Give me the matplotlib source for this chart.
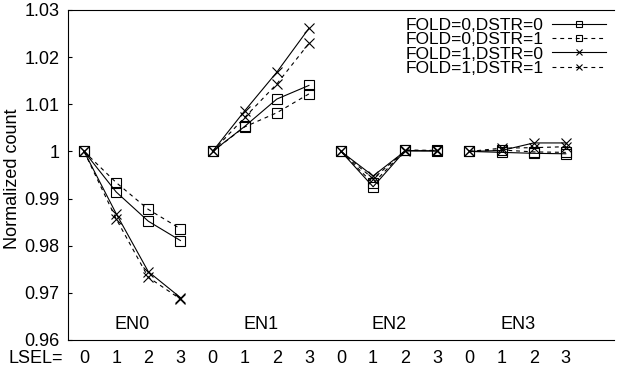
import matplotlib
matplotlib.use("Agg")
import matplotlib.pyplot as plt

plt.rcParams['font.family'] = ['Liberation Sans', 'DejaVu Sans']

groups = ["EN0", "EN1", "EN2", "EN3"]
lsel = [0, 1, 2, 3]
series_labels = ["FOLD=0,DSTR=0", "FOLD=0,DSTR=1", "FOLD=1,DSTR=0", "FOLD=1,DSTR=1"]

# values per series, per group (LSEL 0..3)
f0d0 = [[1.0, 0.9914, 0.9852, 0.9811],
        [1.0, 1.0053, 1.0111, 1.0140],
        [1.0, 0.9925, 1.0002, 1.0001],
        [1.0, 0.9998, 0.9996, 0.9995]]
f0d1 = [[1.0, 0.9934, 0.9877, 0.9836],
        [1.0, 1.0052, 1.0082, 1.0122],
        [1.0, 0.9932, 1.0003, 1.0002],
        [1.0, 1.0003, 0.9999, 0.9998]]
f1d0 = [[1.0, 0.9868, 0.9745, 0.9690],
        [1.0, 1.0086, 1.0168, 1.0261],
        [1.0, 0.9948, 1.0001, 1.0001],
        [1.0, 1.0002, 1.0018, 1.0018]]
f1d1 = [[1.0, 0.9857, 0.9733, 0.9687],
        [1.0, 1.0072, 1.0143, 1.0229],
        [1.0, 0.9942, 1.0002, 1.0002],
        [1.0, 1.0007, 1.0008, 1.0010]]
series = [f0d0, f0d1, f1d0, f1d1]

yticks = [0.96, 0.97, 0.98, 0.99, 1.0, 1.01, 1.02, 1.03]
ytick_labels = ["0.96", "0.97", "0.98", "0.99", "1", "1.01", "1.02", "1.03"]

styles = [dict(linestyle='-', marker='s'),
          dict(linestyle=(0, (3.5, 3.5)), marker='s'),
          dict(linestyle='-', marker='x'),
          dict(linestyle=(0, (3.5, 3.5)), marker='x')]

FS = 13

fig = plt.figure(figsize=(6.21, 3.75), dpi=100)
ax = fig.add_axes([68/621, 1 - 340/375, (614-68)/621, (340-10)/375])

for s, (data, st, lab) in enumerate(zip(series, styles, series_labels)):
    for g, vals in enumerate(data):
        xs = [4*g + l for l in lsel]
        ax.plot(xs, vals, color='black', linewidth=0.8,
                linestyle=st['linestyle'], marker=st['marker'],
                markersize=6.5, markerfacecolor='none', markeredgecolor='black',
                markeredgewidth=0.8, label=lab if g == 0 else None)

ax.set_xlim(-0.5, 16.5)
ax.set_ylim(0.96, 1.03)
ax.set_yticks(yticks)
ax.set_yticklabels(ytick_labels)
ax.set_xticks([4*g + l for g in range(4) for l in lsel])
ax.set_xticklabels([str(l) for g in range(4) for l in lsel])
ax.tick_params(axis='both', direction='in', length=0, labelsize=FS)
ax.tick_params(axis='x', pad=7)
ax.tick_params(axis='y', length=3, width=0.8, pad=6)
ax.spines['right'].set_visible(False)
for sp in ['left', 'top', 'bottom']:
    ax.spines[sp].set_linewidth(0.8)

ax.annotate("LSEL=", xy=(-0.66, 0), xycoords=ax.get_xaxis_transform(),
            xytext=(0, -7), textcoords='offset points', ha='right', va='top',
            fontsize=FS)

for g, name in enumerate(groups):
    ax.text(4*g + 1.5, 0.9632, name, ha='center', va='center', fontsize=FS)

ax.set_ylabel("Normalized count", fontsize=FS)
ax.yaxis.set_label_coords(-47/546, 0.49)

leg = ax.legend(loc='upper right', frameon=False, markerfirst=False,
                fontsize=12.5, handlelength=3.1, handletextpad=0.5,
                labelspacing=-0.05, borderaxespad=0.2, borderpad=0.25)
for h in leg.legend_handles:
    h.set_markersize(5)

fig.savefig("out.png", dpi=100)
